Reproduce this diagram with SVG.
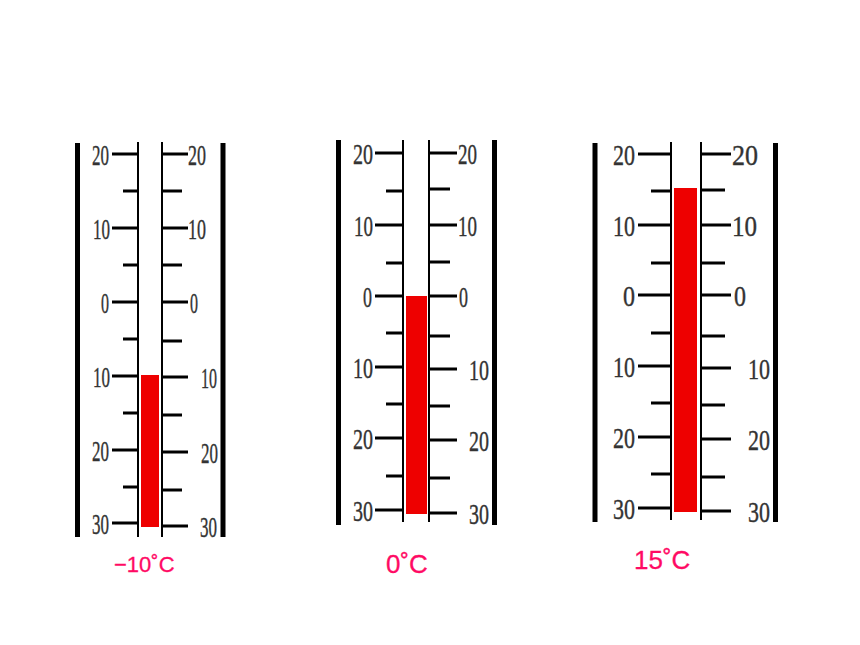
<svg xmlns="http://www.w3.org/2000/svg" width="860" height="645" viewBox="0 0 860 645">
<style>
.bar{stroke:#000;stroke-width:5;fill:none}
.tube{stroke:#000;stroke-width:2;fill:none}
.tick{stroke:#000;stroke-width:3;fill:none}
.fill{fill:#ee0000}
.num{font-family:"Liberation Serif","Times New Roman",serif;font-size:30px;fill:#333;stroke:#333;stroke-width:0.4}
.cap{font-family:"Liberation Sans",Arial,sans-serif;fill:#ff0a64;stroke:#ff0a64;stroke-width:0.3}
</style>
<rect width="860" height="645" fill="#fff"/>

<g id="thermometer1">
  <line class="bar" x1="77.5" y1="143" x2="77.5" y2="537"/>
  <line class="bar" x1="223" y1="143" x2="223" y2="537"/>
  <rect class="fill" x="141" y="375" width="18" height="152"/>
  <line class="tube" x1="138" y1="142" x2="138" y2="537"/>
  <line class="tube" x1="162" y1="142" x2="162" y2="537"/>
  <path class="tick" d="M112 154H138M123 191H138M112 228H138M123 265H138M112 302H138M123 339H138M112 376H138M123 413H138M112 450H138M123 487H138M112 523H138"/>
  <path class="tick" d="M162 154H188M162 191H182M162 228H188M162 265H182M162 302H188M162 341H182M162 377H188M162 415H182M162 452H188M162 490H182M162 526H188"/>
  <text class="num" x="92" y="164.5" textLength="17" lengthAdjust="spacingAndGlyphs">20</text>
  <text class="num" x="93" y="238.5" textLength="17" lengthAdjust="spacingAndGlyphs">10</text>
  <text class="num" x="101" y="312.5" textLength="8" lengthAdjust="spacingAndGlyphs">0</text>
  <text class="num" x="93" y="386.5" textLength="17" lengthAdjust="spacingAndGlyphs">10</text>
  <text class="num" x="92" y="460.5" textLength="17" lengthAdjust="spacingAndGlyphs">20</text>
  <text class="num" x="92" y="533.5" textLength="17" lengthAdjust="spacingAndGlyphs">30</text>
  <text class="num" x="188" y="164.5" textLength="18" lengthAdjust="spacingAndGlyphs">20</text>
  <text class="num" x="188" y="238.5" textLength="18" lengthAdjust="spacingAndGlyphs">10</text>
  <text class="num" x="190" y="312.5" textLength="8" lengthAdjust="spacingAndGlyphs">0</text>
  <text class="num" x="201" y="387.5" textLength="16" lengthAdjust="spacingAndGlyphs">10</text>
  <text class="num" x="201" y="462.5" textLength="17" lengthAdjust="spacingAndGlyphs">20</text>
  <text class="num" x="200" y="536.5" textLength="17" lengthAdjust="spacingAndGlyphs">30</text>
  <text class="cap" x="114" y="572" font-size="22">−10˚C</text>
</g>

<g id="thermometer2">
  <line class="bar" x1="338.5" y1="140" x2="338.5" y2="525"/>
  <line class="bar" x1="494.5" y1="140" x2="494.5" y2="525"/>
  <rect class="fill" x="406" y="296" width="21" height="218"/>
  <line class="tube" x1="403" y1="140" x2="403" y2="522"/>
  <line class="tube" x1="429" y1="140" x2="429" y2="522"/>
  <path class="tick" d="M375 153H403M386 191H403M375 225H403M386 263H403M375 296H403M386 333H403M375 367H403M386 404H403M375 438H403M386 476H403M375 510H403"/>
  <path class="tick" d="M429 153H457M429 189H450M429 225H457M429 262H450M429 296H457M429 336H450M429 369H457M429 406H450M429 440H457M429 478H450M429 513H457"/>
  <text class="num" x="353" y="163.5" textLength="20" lengthAdjust="spacingAndGlyphs">20</text>
  <text class="num" x="354" y="235.5" textLength="19" lengthAdjust="spacingAndGlyphs">10</text>
  <text class="num" x="363" y="306.5" textLength="9" lengthAdjust="spacingAndGlyphs">0</text>
  <text class="num" x="353" y="377.5" textLength="20" lengthAdjust="spacingAndGlyphs">10</text>
  <text class="num" x="353" y="448.5" textLength="20" lengthAdjust="spacingAndGlyphs">20</text>
  <text class="num" x="353" y="520.5" textLength="20" lengthAdjust="spacingAndGlyphs">30</text>
  <text class="num" x="458" y="163.5" textLength="19" lengthAdjust="spacingAndGlyphs">20</text>
  <text class="num" x="458" y="235.5" textLength="19" lengthAdjust="spacingAndGlyphs">10</text>
  <text class="num" x="459" y="306.5" textLength="9" lengthAdjust="spacingAndGlyphs">0</text>
  <text class="num" x="469" y="379.5" textLength="20" lengthAdjust="spacingAndGlyphs">10</text>
  <text class="num" x="469" y="450.5" textLength="20" lengthAdjust="spacingAndGlyphs">20</text>
  <text class="num" x="469" y="523.5" textLength="20" lengthAdjust="spacingAndGlyphs">30</text>
  <text class="cap" x="386" y="573" font-size="26">0˚C</text>
</g>

<g id="thermometer3">
  <line class="bar" x1="595" y1="143" x2="595" y2="522"/>
  <line class="bar" x1="775.5" y1="143" x2="775.5" y2="522"/>
  <rect class="fill" x="674" y="188" width="23" height="324"/>
  <line class="tube" x1="671" y1="142" x2="671" y2="520"/>
  <line class="tube" x1="701" y1="142" x2="701" y2="520"/>
  <path class="tick" d="M638 154H671M651 191H671M638 225H671M651 263H671M638 295H671M651 333H671M638 366H671M651 403H671M638 437H671M651 474H671M638 508H671"/>
  <path class="tick" d="M701 154H731M701 190H725M701 225H731M701 263H725M701 295H731M701 336H725M701 368H731M701 405H725M701 439H731M701 477H725M701 511H731"/>
  <text class="num" x="613" y="164.5" textLength="22" lengthAdjust="spacingAndGlyphs">20</text>
  <text class="num" x="613" y="235.5" textLength="22" lengthAdjust="spacingAndGlyphs">10</text>
  <text class="num" x="623" y="305.5" textLength="12" lengthAdjust="spacingAndGlyphs">0</text>
  <text class="num" x="613" y="376.5" textLength="22" lengthAdjust="spacingAndGlyphs">10</text>
  <text class="num" x="613" y="447.5" textLength="22" lengthAdjust="spacingAndGlyphs">20</text>
  <text class="num" x="613" y="518.5" textLength="22" lengthAdjust="spacingAndGlyphs">30</text>
  <text class="num" x="732" y="164.5" textLength="26" lengthAdjust="spacingAndGlyphs">20</text>
  <text class="num" x="732" y="235.5" textLength="25" lengthAdjust="spacingAndGlyphs">10</text>
  <text class="num" x="734" y="305.5" textLength="12" lengthAdjust="spacingAndGlyphs">0</text>
  <text class="num" x="748" y="378.5" textLength="22" lengthAdjust="spacingAndGlyphs">10</text>
  <text class="num" x="748" y="449.5" textLength="22" lengthAdjust="spacingAndGlyphs">20</text>
  <text class="num" x="748" y="521.5" textLength="22" lengthAdjust="spacingAndGlyphs">30</text>
  <text class="cap" x="634" y="569" font-size="26">15˚C</text>
</g>
</svg>
